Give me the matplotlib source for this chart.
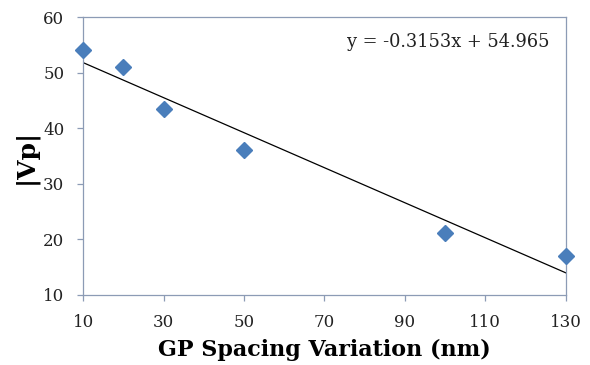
import matplotlib
matplotlib.use('Agg')
import matplotlib.pyplot as plt
import numpy as np

# data
spacing = [10, 20, 30, 50, 100, 130]
vp = [54.1, 51.1, 43.5, 36.1, 21.1, 17.0]
slope = -0.3153
intercept = 54.965
x_ticks = [10, 30, 50, 70, 90, 110, 130]
y_ticks = [10, 20, 30, 40, 50, 60]

font = 'DejaVu Serif'
axis_col = '#8C9BB5'

fig = plt.figure(figsize=(5.9, 3.65), dpi=100)
ax = fig.add_axes([0.141, 0.192, 0.818, 0.761])

x_line = np.array([spacing[0], spacing[-1]])
ax.plot(x_line, slope * x_line + intercept, color='black', linewidth=0.9)
ax.plot(spacing, vp, linestyle='none', marker='D', markersize=8.5,
        color='#4A7EBB', clip_on=False, zorder=3)

ax.set_xlim(10, 130)
ax.set_ylim(10, 60)
ax.set_xticks(x_ticks)
ax.set_yticks(y_ticks)
for s in ax.spines.values():
    s.set_color(axis_col)
    s.set_linewidth(0.9)
ax.tick_params(direction='out', length=4.5, width=0.9, color=axis_col,
               labelsize=12, pad=9)
for lab in ax.get_xticklabels() + ax.get_yticklabels():
    lab.set_fontfamily(font)
    lab.set_color('#222222')

ax.set_xlabel('GP Spacing Variation (nm)', fontfamily=font,
              fontweight='bold', fontsize=16, labelpad=6)
ax.set_ylabel('|Vp|', fontfamily=font, fontweight='bold', fontsize=18,
              labelpad=4)

ax.text(0.967, 0.91, 'y = -0.3153x + 54.965', transform=ax.transAxes,
        ha='right', va='center', fontfamily=font, fontsize=12.8,
        color='#222222')

fig.savefig('out.png', dpi=100)
